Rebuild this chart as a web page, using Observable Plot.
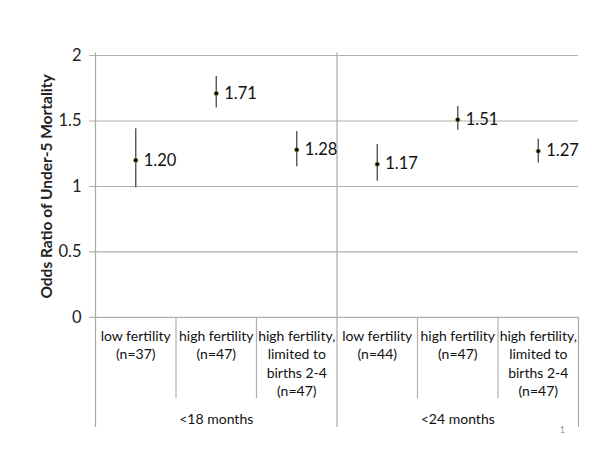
<!DOCTYPE html>
<html>
<head>
<meta charset="utf-8">
<script src="https://cdn.jsdelivr.net/npm/d3@7"></script>
<script src="https://cdn.jsdelivr.net/npm/@observablehq/plot@0.6"></script>
<style>
  html, body { margin: 0; padding: 0; background: #fff; }
  #chart svg { display: block; }
</style>
</head>
<body>
<div id="chart"></div>
<script>
const categories = [
  "low fertility\n(n=37)",
  "high fertility\n(n=47)",
  "high fertility,\nlimited to\nbirths 2-4\n(n=47)",
  "low fertility\n(n=44)",
  "high fertility\n(n=47)",
  "high fertility,\nlimited to\nbirths 2-4\n(n=47)"
];
const groups = ["<18 months", "<24 months"];
const oddsRatio = [1.20, 1.71, 1.28, 1.17, 1.51, 1.27];
const ciLow = [0.99, 1.60, 1.15, 1.04, 1.43, 1.18];
const ciHigh = [1.44, 1.84, 1.42, 1.32, 1.61, 1.36];
const yTicks = [0, 0.5, 1, 1.5, 2];
const yTitle = "Odds Ratio of Under-5 Mortality";
const pageNumber = "1";

const rows = categories.map((c, i) => ({
  pos: i + 0.5, label: c, or: oddsRatio[i], lo: ciLow[i], hi: ciHigh[i]
}));
const groupRows = groups.map((g, i) => ({pos: i * 3 + 1.5, label: g}));
const n = categories.length;
const outerEdges = [0, n / 2, n];
const innerEdges = d3.range(1, n).filter(k => k !== n / 2);

const font = "Lato, 'Open Sans', sans-serif";

const chart = Plot.plot({
  width: 600,
  height: 450,
  marginLeft: 95,
  marginRight: 22,
  marginTop: 55,
  marginBottom: 20,
  style: {fontFamily: font, fontSize: "15px", color: "#222", background: "#fff"},
  x: {domain: [0, n], axis: null},
  y: {domain: [-0.863, 2], axis: null},
  marks: [
    Plot.ruleY(yTicks, {y: d => d, x1: -0.075, x2: n, stroke: "#b0b0b0", strokeWidth: 1.2}),
    Plot.ruleX(outerEdges, {x: d => d, y1: -0.84, y2: d => d === n ? 0 : 2.02, stroke: "#a8a8a8", strokeWidth: 1.2}),
    Plot.ruleX(innerEdges, {x: d => d, y1: -0.62, y2: 0, stroke: "#b0b0b0", strokeWidth: 1.2}),
    Plot.text(yTicks, {x: 0, y: d => d, text: d => String(d), textAnchor: "end", dx: -14, fontSize: 16.5, fill: "#222"}),
    Plot.text([yTitle], {x: -0.6, y: 1.0, text: d => d, rotate: -90, fontWeight: "bold", fontSize: 15.5, fill: "#222"}),
    Plot.ruleX(rows, {x: "pos", y1: "lo", y2: "hi", stroke: "#4a4a4a", strokeWidth: 1.3}),
    Plot.dot(rows, {x: "pos", y: "or", r: 2.2, fill: "#000", stroke: "#9a9a50", strokeWidth: 0.8}),
    Plot.text(rows, {x: "pos", y: "or", text: d => d.or.toFixed(2), textAnchor: "start", dx: 8, fontSize: 16.5, fill: "#111"}),
    Plot.text(rows, {x: "pos", y: -0.085, text: "label", lineAnchor: "top", lineHeight: 1.29, fontSize: 14, fill: "#111"}),
    Plot.text(groupRows, {x: "pos", y: -0.78, text: "label", fontSize: 14, fill: "#111"}),
    Plot.text([pageNumber], {x: 5.8, y: -0.863, text: d => d, fontSize: 9, fill: "#999"})
  ]
});
document.getElementById("chart").appendChild(chart);
</script>
</body>
</html>
